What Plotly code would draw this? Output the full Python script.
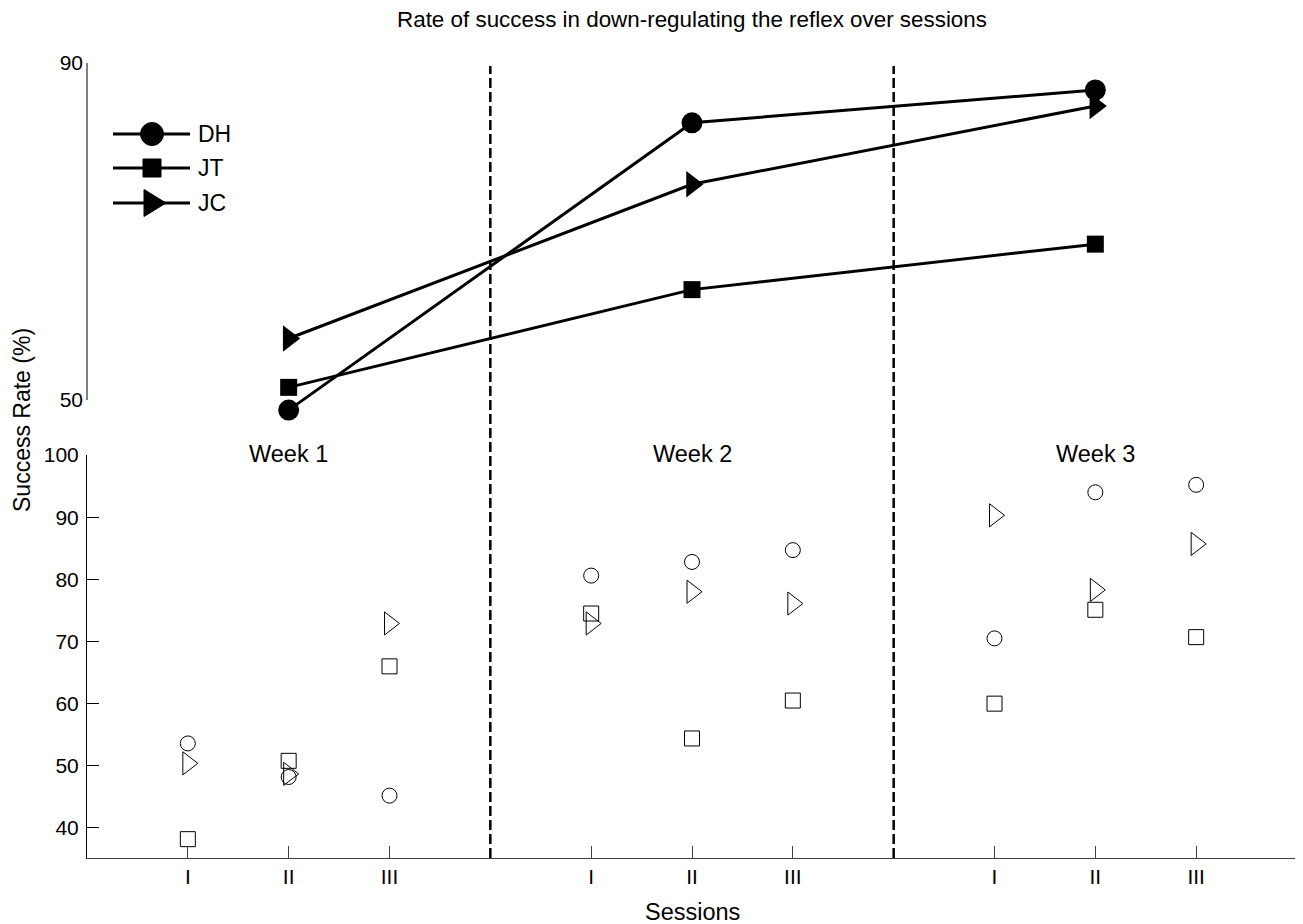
import plotly.graph_objects as go

# ---------------- data ----------------
session_x = [1, 2, 3, 5, 6, 7, 9, 10, 11]
session_labels = ["I", "II", "III", "I", "II", "III", "I", "II", "III"]
week_x = [2, 6, 10]
week_labels = ["Week 1", "Week 2", "Week 3"]
week_dividers = [4, 8]

# per-session success rate (%)
dh_sessions = [53.6, 48.2, 45.2, 80.6, 82.8, 84.7, 70.5, 94.0, 95.2]
jt_sessions = [38.2, 50.8, 66.0, 74.5, 54.4, 60.5, 60.0, 75.1, 70.7]
jc_sessions = [50.4, 48.7, 72.9, 72.9, 78.0, 76.1, 90.3, 78.3, 85.7]

# weekly success rate (%)
dh_weeks = [48.8, 82.9, 86.8]
jt_weeks = [51.5, 63.1, 68.5]
jc_weeks = [57.3, 75.6, 84.9]

names = ["DH", "JT", "JC"]

# ---------------- layout helpers ----------------
OFF = 8                      # page body margin
W, H = 1295, 916             # figure size
L, T = 87 - OFF, 63 - OFF
plot_w, plot_h = 1210, 795
R = W - L - plot_w
B = H - T - plot_h


def py(p):  # page pixel y -> paper y
    return (H - B - (p - OFF)) / plot_h


def px(p):  # page pixel x -> paper x
    return (p - OFF - L) / plot_w


FONT = "Liberation Sans, Arial, Helvetica, sans-serif"
BLACK = "black"

fig = go.Figure()

big_sym = ["circle", "square", "triangle-right"]
big_size = [21, 17, 23]
open_sym = ["circle-open", "square-open", "triangle-right-open"]
open_size = [15, 15, 20]

for nm, wk, sym, sz in zip(names, [dh_weeks, jt_weeks, jc_weeks], big_sym, big_size):
    fig.add_trace(go.Scatter(
        x=week_x, y=wk, name=nm, mode="lines+markers", xaxis="x", yaxis="y2",
        line=dict(color=BLACK, width=3),
        marker=dict(symbol=sym, size=sz, color=BLACK),
        cliponaxis=False, showlegend=False,
    ))

for nm, ses, sym, sz in zip(names, [dh_sessions, jt_sessions, jc_sessions], open_sym, open_size):
    fig.add_trace(go.Scatter(
        x=session_x, y=ses, name=nm, mode="markers", xaxis="x", yaxis="y",
        marker=dict(symbol=sym, size=sz, color=BLACK, line=dict(color=BLACK, width=1)),
        cliponaxis=False, showlegend=False,
    ))

shapes = []
# dashed week dividers spanning both panels
for xv in week_dividers:
    shapes.append(dict(type="line", xref="x", yref="paper", x0=xv, x1=xv,
                       y0=0, y1=py(66), line=dict(color=BLACK, width=2.5, dash="10px,4px")))
# top panel axis line (from 50 to 90 only)
shapes.append(dict(type="line", xref="paper", yref="y2", x0=0, x1=0, y0=50, y1=90,
                   line=dict(color=BLACK, width=1)))

# custom legend
leg_rows = [134, 168, 203]
for i, (nm, row) in enumerate(zip(names, leg_rows)):
    yy = py(row)
    shapes.append(dict(type="line", xref="paper", yref="paper", x0=px(113), x1=px(190),
                       y0=yy, y1=yy, line=dict(color=BLACK, width=3)))
    common = dict(xref="paper", yref="paper", xsizemode="pixel", ysizemode="pixel",
                  xanchor=px(152), yanchor=yy, fillcolor=BLACK, line=dict(color=BLACK, width=1))
    if i == 0:
        shapes.append(dict(type="circle", x0=-11.5, x1=11.5, y0=-11.5, y1=11.5, **common))
    elif i == 1:
        shapes.append(dict(type="rect", x0=-9, x1=9, y0=-9, y1=9, **common))
    else:
        shapes.append(dict(type="path", path="M-8,-13.5 L14,0 L-8,13.5 Z", **common))

annotations = []
for nm, row in zip(names, leg_rows):
    annotations.append(dict(text=nm, xref="paper", yref="paper", x=px(196), y=py(row),
                            xanchor="left", yanchor="middle", showarrow=False,
                            font=dict(family=FONT, size=23, color=BLACK)))
for xv, lab in zip(week_x, week_labels):
    annotations.append(dict(text=lab, xref="x", yref="paper", x=xv, y=py(454),
                            xanchor="center", yanchor="middle", showarrow=False,
                            font=dict(family=FONT, size=23.5, color=BLACK)))
annotations.append(dict(text="Sessions", xref="paper", yref="paper", x=px(692), y=py(912),
                        xanchor="center", yanchor="middle", showarrow=False,
                        font=dict(family=FONT, size=23.5, color=BLACK)))
annotations.append(dict(text="Success Rate (%)", xref="paper", yref="paper", x=px(22), y=py(420),
                        xanchor="center", yanchor="middle", showarrow=False, textangle=-90,
                        font=dict(family=FONT, size=23, color=BLACK)))

bottom_top = py(455)
top_bottom = py(400 + 3 * (337 / 40))

fig.update_layout(
    width=W, height=H,
    margin=dict(l=L, r=R, t=T, b=B, pad=0),
    paper_bgcolor="white", plot_bgcolor="white",
    font=dict(family=FONT, size=21, color=BLACK),
    title=dict(text="Rate of success in down-regulating the reflex over sessions",
               x=px(692), xref="paper", xanchor="center", y=1 - (19 - OFF) / H,
               yref="container", yanchor="middle",
               font=dict(family=FONT, size=22.4, color=BLACK)),
    xaxis=dict(range=[0, 12], tickvals=session_x, ticktext=session_labels,
               ticks="inside", ticklen=12, tickcolor="#404040", tickwidth=1,
               showline=True, linecolor="#404040", linewidth=1,
               showgrid=False, zeroline=False, anchor="y",
               tickfont=dict(family=FONT, size=21, color=BLACK)),
    yaxis=dict(domain=[0, bottom_top], range=[35.17, 100],
               tickvals=[40, 50, 60, 70, 80, 90, 100],
               ticks="inside", ticklen=12, tickcolor=BLACK, tickwidth=1,
               showline=True, linecolor=BLACK, linewidth=1,
               showgrid=False, zeroline=False, anchor="x", ticklabelstandoff=3,
               tickfont=dict(family=FONT, size=21, color=BLACK)),
    yaxis2=dict(domain=[top_bottom, 1], range=[47, 90], tickvals=[50, 90],
                ticks="", showline=False, showgrid=False, zeroline=False, anchor="x",
                ticklabelstandoff=3,
                tickfont=dict(family=FONT, size=21, color=BLACK)),
    shapes=shapes,
    annotations=annotations,
    showlegend=False,
)

fig.write_html("out.html")
